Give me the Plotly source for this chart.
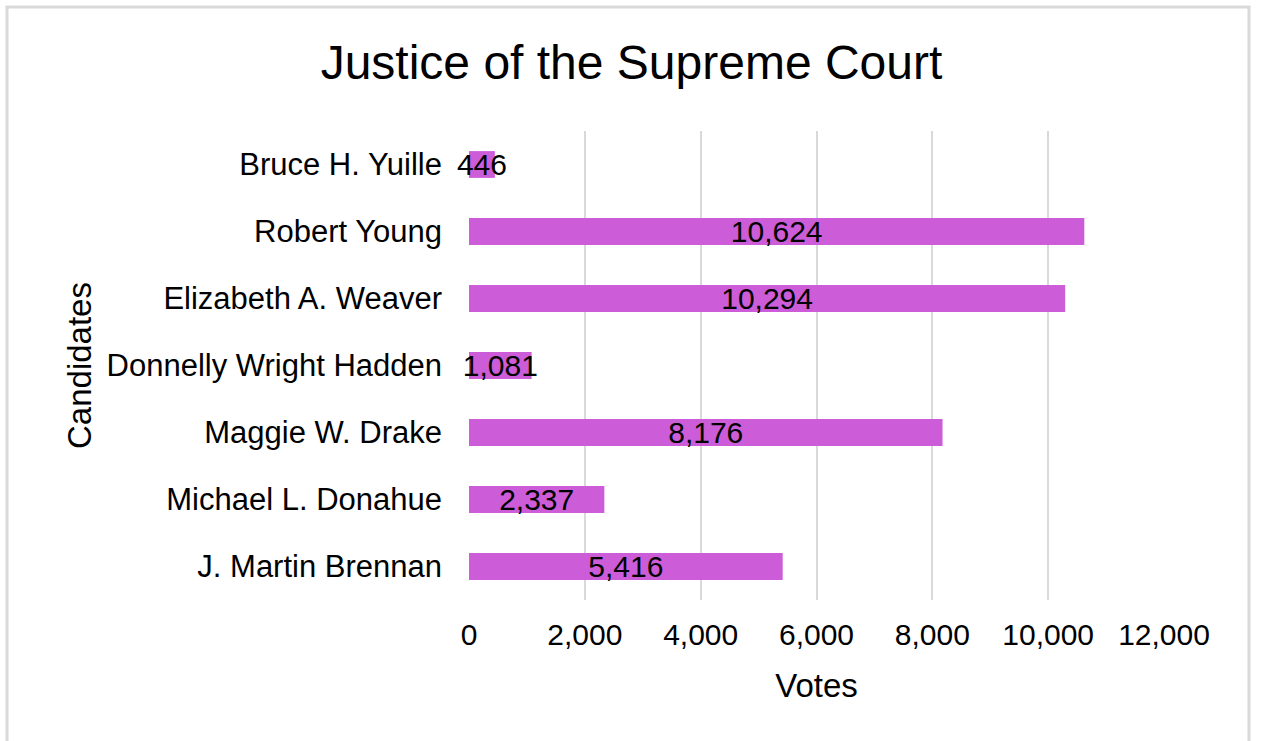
import plotly.graph_objects as go

candidates = [
    "Bruce H. Yuille",
    "Robert Young",
    "Elizabeth A. Weaver",
    "Donnelly Wright Hadden",
    "Maggie W. Drake",
    "Michael L. Donahue",
    "J. Martin Brennan",
]
votes = [446, 10624, 10294, 1081, 8176, 2337, 5416]
x_ticks = [0, 2000, 4000, 6000, 8000, 10000, 12000]
x_tick_labels = ["0", "2,000", "4,000", "6,000", "8,000", "10,000", "12,000"]

BAR_COLOR = "#CC5CD8"
GRID = "#D9D9D9"
FONT = "Liberation Sans, Arial, sans-serif"

W, H = 1261, 741
ML, MR, MT, MB = 469, 97, 131, 141

fig = go.Figure(
    go.Bar(
        x=votes,
        y=candidates,
        orientation="h",
        marker=dict(color=BAR_COLOR, line=dict(width=0)),
        width=0.4,
        text=[f"{v:,}" for v in votes],
        textposition="inside",
        insidetextanchor="middle",
        textangle=0,
        constraintext="none",
        textfont=dict(family=FONT, size=30, color="#000000"),
        cliponaxis=False,
    )
)

pw = W - ML - MR
ph = H - MT - MB
fig.add_shape(
    type="rect",
    xref="paper", yref="paper",
    x0=(7 - ML) / pw, x1=(1249 - ML) / pw,
    y0=(H - MB - 760) / ph, y1=(H - MB - 7) / ph,
    line=dict(color="#D9D9D9", width=3),
    fillcolor="rgba(0,0,0,0)",
    layer="below",
)

fig.update_layout(
    width=W,
    height=H,
    margin=dict(l=ML, r=MR, t=MT, b=MB, pad=0),
    paper_bgcolor="white",
    plot_bgcolor="white",
    showlegend=False,
    font=dict(family=FONT, color="#000000"),
    title=dict(
        text="Justice of the Supreme Court",
        x=(322 + 941) / 2 / W, xref="container", xanchor="center",
        y=1 - 62 / H, yref="container", yanchor="middle",
        font=dict(family=FONT, size=48, color="#000000"),
    ),
    xaxis=dict(
        range=[0, 12000],
        tickvals=x_ticks,
        ticktext=x_tick_labels,
        showgrid=True,
        gridcolor=GRID,
        gridwidth=2,
        zeroline=False,
        showline=False,
        ticks="",
        ticklabelstandoff=14,
        tickfont=dict(family=FONT, size=30, color="#000000"),
        title=dict(text="Votes", font=dict(family=FONT, size=33, color="#000000"), standoff=23),
    ),
    yaxis=dict(
        autorange="reversed",
        showgrid=False,
        zeroline=False,
        showline=False,
        ticks="",
        ticklabelstandoff=26,
        tickfont=dict(family=FONT, size=31, color="#000000"),
        title=dict(text="Candidates", font=dict(family=FONT, size=33, color="#000000"), standoff=4),
    ),
)

fig.write_html(
    "out.html",
    config={"displayModeBar": False},
    post_script="document.body.style.margin='0';",
)
